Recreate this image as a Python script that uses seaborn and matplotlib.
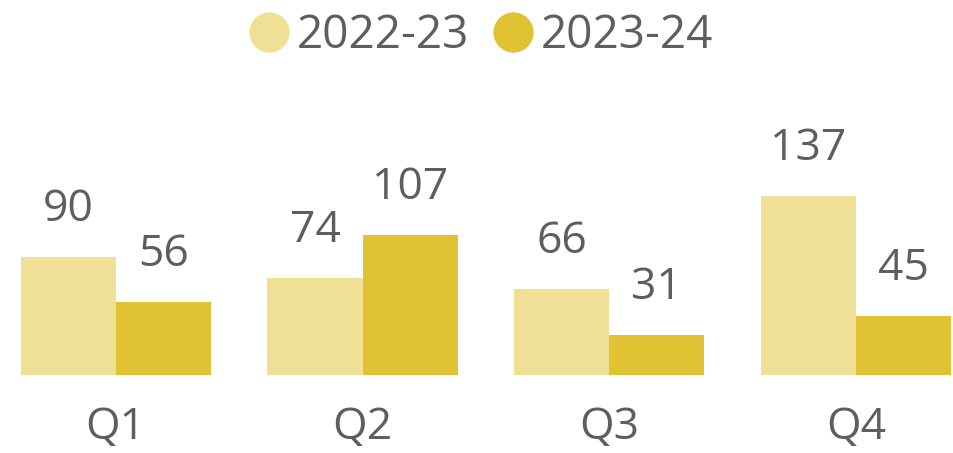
import matplotlib
matplotlib.use("Agg")
import matplotlib.pyplot as plt
from matplotlib.lines import Line2D
import seaborn as sns
import pandas as pd

quarters = ["Q1", "Q2", "Q3", "Q4"]
series = ["2022-23", "2023-24"]
values_2022_23 = [90, 74, 66, 137]
values_2023_24 = [56, 107, 31, 45]
colors = ["#EFE096", "#E0C233"]
text_color = "#605E5C"

df = pd.DataFrame({
    "quarter": quarters * 2,
    "year": [series[0]] * 4 + [series[1]] * 4,
    "value": values_2022_23 + values_2023_24,
})

sns.set_theme(style="white")
plt.rcParams["font.family"] = ["Open Sans", "DejaVu Sans"]

W, H = 954, 453
fig = plt.figure(figsize=(W / 100, H / 100), dpi=100)
ax = fig.add_axes([0, 78 / H, 1, 375 / H])

sns.barplot(data=df, x="quarter", y="value", hue="year", order=quarters,
            hue_order=series, palette=colors, width=0.77, saturation=1,
            linewidth=0, ax=ax, legend=False)

ax.set_xlim(-0.469, 3.397)
ax.set_ylim(0, 287.1)
for s in ax.spines.values():
    s.set_visible(False)
ax.set_yticks([])
ax.set_xlabel("")
ax.set_ylabel("")
ax.tick_params(axis="x", length=0, pad=22, labelsize=32, labelcolor=text_color)

for cont in ax.containers:
    ax.bar_label(cont, padding=18, fontsize=32, color=text_color)

handles = [Line2D([], [], linestyle="none", marker="o", markersize=29,
                  markerfacecolor=c, markeredgewidth=0) for c in colors]
fig.legend(handles, series, loc="upper center", bbox_to_anchor=(0.504, 1.063),
           ncol=2, frameon=False, fontsize=33, labelcolor=text_color,
           handletextpad=0.15, columnspacing=0.5, handlelength=0.9)

fig.savefig("out.png", dpi=100)
